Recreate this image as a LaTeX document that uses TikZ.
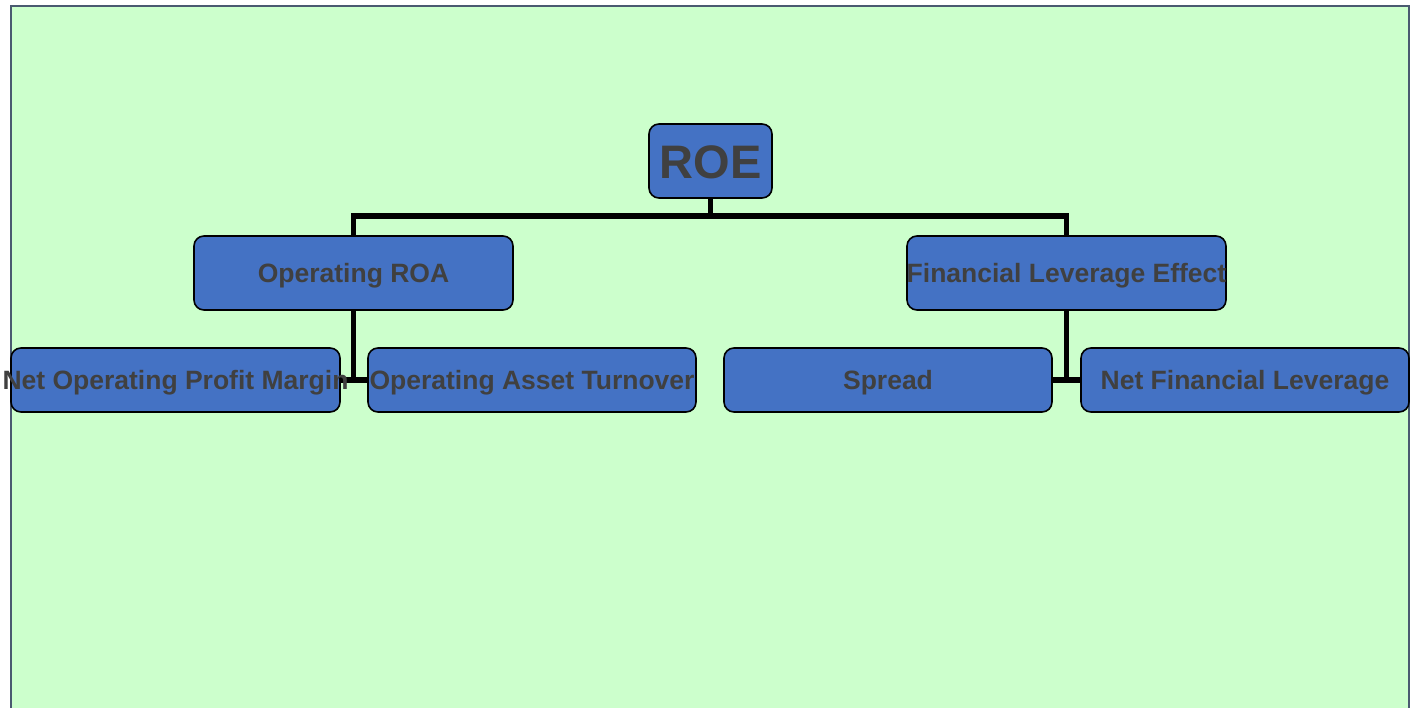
\documentclass[tikz,border=0pt]{standalone}
\usepackage{fontspec}
\setmainfont{Liberation Sans}
\usetikzlibrary{backgrounds}
\definecolor{panelbg}{HTML}{CCFFCC}
\definecolor{panelframe}{HTML}{4A5A70}
\definecolor{boxfill}{HTML}{4472C4}
\definecolor{labeltext}{HTML}{404040}
\newcommand{\lbl}[1]{\makebox[0pt]{#1}}
\tikzset{
  card/.style={draw=black, line width=1.6pt, fill=boxfill, rounded corners=10pt,
    inner sep=0pt, text=labeltext, text height=19pt, text depth=0pt,
    font=\bfseries\fontsize{26.5}{30}\selectfont},
  link/.style={draw=black, line width=5.5pt, line join=miter}
}
\begin{document}
\begin{tikzpicture}[x=1pt,y=-1pt]
  \useasboundingbox (0,0) rectangle (1412,708);
  \clip (0,0) rectangle (1412,708);

  % tree nodes
  \node[card, minimum width=123pt, minimum height=74pt, text height=36pt,
        font=\bfseries\fontsize{47}{52}\selectfont] (roe) at (710.5,161) {\lbl{ROE}};
  \node[card, minimum width=319pt, minimum height=74pt] (oroa) at (353.5,273) {\lbl{Operating ROA}};
  \node[card, minimum width=319pt, minimum height=74pt] (fle) at (1066.5,273) {\lbl{Financial Leverage Effect}};
  \node[card, minimum width=329pt, minimum height=64pt] (nopm) at (175.5,380) {\lbl{Net Operating Profit Margin}};
  \node[card, minimum width=328pt, minimum height=64pt] (oat) at (532,380) {\lbl{Operating Asset Turnover}};
  \node[card, minimum width=328pt, minimum height=64pt] (spr) at (888,380) {\lbl{Spread}};
  \node[card, minimum width=328pt, minimum height=64pt] (nfl) at (1245,380) {\lbl{Net Financial Leverage}};

  \begin{scope}[on background layer]
    % panel
    \fill[white] (0,0) rectangle (1412,708);
    \draw[panelframe, fill=panelbg, line width=2pt] (11,6) rectangle (1409,730);
    % connectors
    \coordinate (bus) at (710.5,216);
    \draw[link] (roe.south) -- (bus);
    \draw[link] (oroa.north) |- (bus) -| (fle.north);
    \draw[link] (oroa.south) |- (nopm.east);
    \draw[link] (oroa.south) |- (oat.west);
    \draw[link] (fle.south) |- (spr.east);
    \draw[link] (fle.south) |- (nfl.west);
  \end{scope}
\end{tikzpicture}
\end{document}
